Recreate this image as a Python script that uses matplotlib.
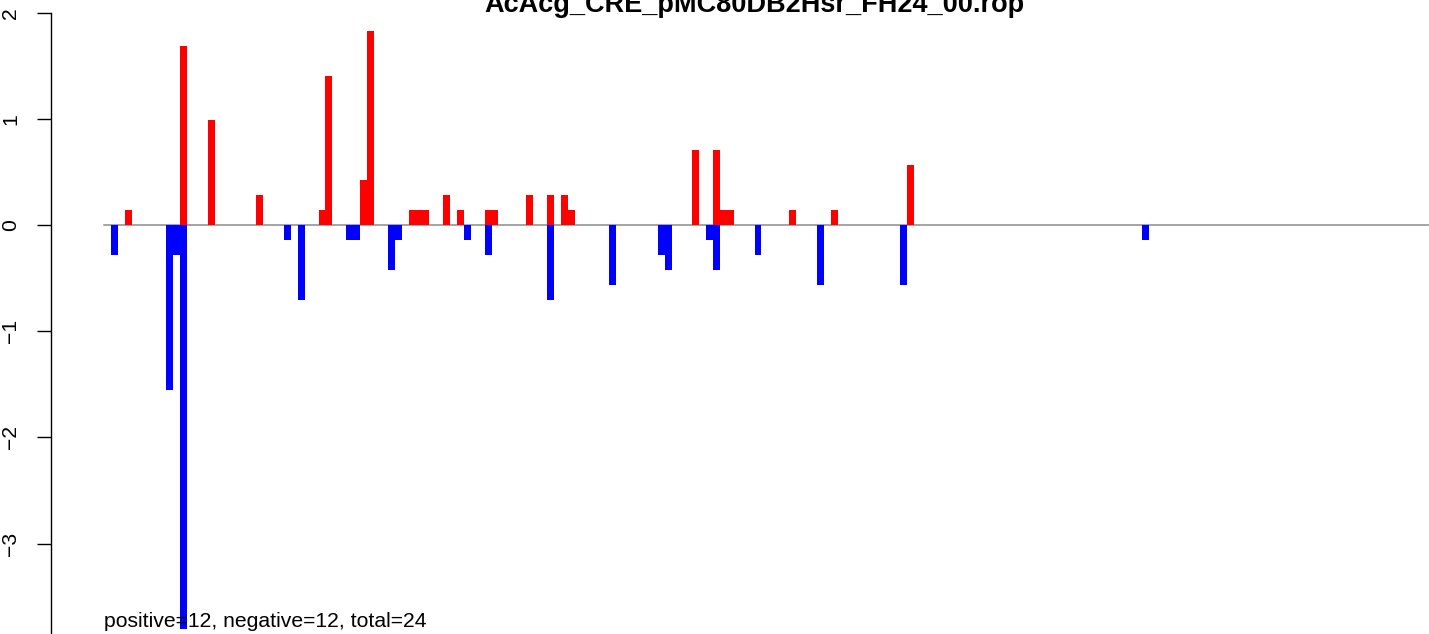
import matplotlib
matplotlib.use('Agg')
import matplotlib.pyplot as plt

plt.rcParams['font.family'] = ['Liberation Sans', 'DejaVu Sans']

title = 'AcAcg_CRE_pMC80DB2Hsr_FH24_00.rop'
summary = 'positive=12, negative=12, total=24'

# bin index (bar slot) and value
pos_bins = [3, 11, 15, 22, 31, 32, 37, 38, 44, 45, 46, 49, 51, 55, 56,
            61, 64, 66, 67, 85, 88, 89, 90, 99, 105, 116]
pos_vals = [0.141, 1.690, 0.986, 0.282, 0.141, 1.408, 0.423, 1.831, 0.141,
            0.141, 0.141, 0.282, 0.141, 0.141, 0.141, 0.282, 0.282, 0.282,
            0.141, 0.704, 0.704, 0.141, 0.141, 0.141, 0.141, 0.563]

neg_bins = [1, 9, 10, 11, 26, 28, 35, 36, 41, 42, 52, 55, 64, 73, 80, 81,
            87, 88, 94, 103, 115, 150]
neg_vals = [-0.282, -1.549, -0.282, -3.80, -0.141, -0.704, -0.141, -0.141,
            -0.423, -0.141, -0.141, -0.282, -0.704, -0.563, -0.282, -0.423,
            -0.141, -0.423, -0.282, -0.563, -0.563, -0.141]

y_ticks = [-4, -3, -2, -1, 0, 1, 2]

fig = plt.figure(figsize=(14.29, 6.34), dpi=100)
ax = fig.add_axes([51 / 1429, 0, 1406 / 1429, 1])

# zero line under the bars
x_max = 195.5
ax.plot([0, x_max], [0, 0], color='#8c8c8c', lw=1.1, zorder=1)

ax.bar(pos_bins, pos_vals, width=1, align='edge', color='red', linewidth=0, zorder=2)
ax.bar(neg_bins, neg_vals, width=1, align='edge', color='blue', linewidth=0, zorder=2)

for side in ['top', 'right', 'bottom']:
    ax.spines[side].set_visible(False)
ax.spines['left'].set_bounds(min(y_ticks), max(y_ticks))
ax.spines['left'].set_linewidth(1.0)
ax.patch.set_visible(False)

ax.set_xticks([])
ax.set_yticks(y_ticks)
ax.tick_params(axis='y', length=10, width=1.0, pad=12, labelsize=15.2, labelrotation=90)
for lab in ax.get_yticklabels():
    lab.set_va('center')

# limits last, set_yticks would widen them otherwise
ax.set_xlim(-7.66, x_max)
ax.set_ylim(-3.851, 2.119)

ax.text(0, -3.785, summary, ha='left', va='baseline', fontsize=15.2, zorder=3)

fig.text(754 / 1429, 1 - 12.5 / 634, title, ha='center', va='baseline',
         fontsize=19.5, fontweight='bold')

fig.savefig('out.png', dpi=100)
